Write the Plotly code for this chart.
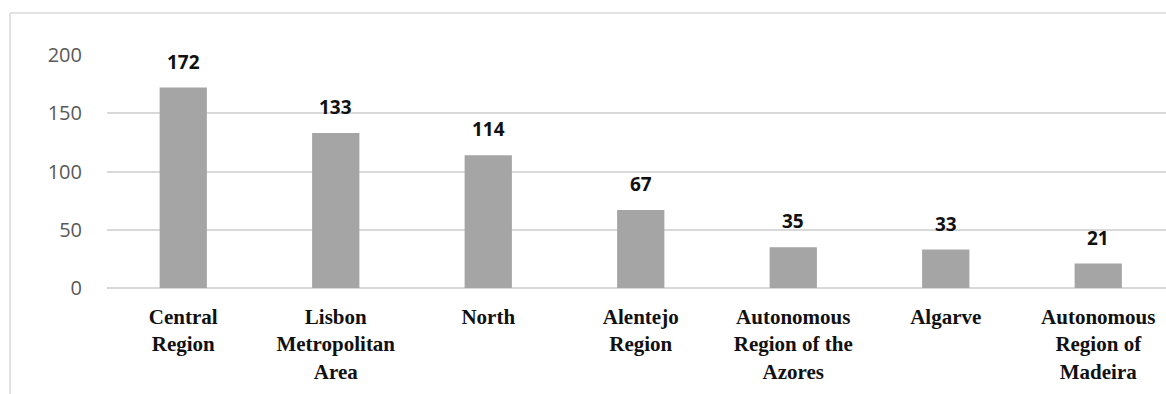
import plotly.graph_objects as go

categories = ["Central<br>Region", "Lisbon<br>Metropolitan<br>Area", "North",
              "Alentejo<br>Region", "Autonomous<br>Region of the<br>Azores",
              "Algarve", "Autonomous<br>Region of<br>Madeira"]
values = [172, 133, 114, 67, 35, 33, 21]
y_ticks = [0, 50, 100, 150, 200]

W, H = 1166, 394
L, R, T, B = 107, 0, 55, 106
pw, ph = W - L - R, H - T - B

x_idx = list(range(len(categories)))

fig = go.Figure(go.Bar(
    x=x_idx, y=values, marker=dict(color="#a5a5a5", line=dict(width=0)),
    hoverinfo="skip",
))

for i, v in zip(x_idx, values):
    fig.add_annotation(x=i, y=v, text=str(v), showarrow=False, yanchor="bottom",
                       yshift=11, font=dict(family="Open Sans", size=19, color="#111111", weight="bold"))

# outer border (chart area frame)
bx = (10 - L) / pw
by = (288 - 13) / ph
fig.add_shape(type="line", xref="paper", yref="paper", x0=bx, x1=1.05, y0=by, y1=by,
              line=dict(color="#d9d9d9", width=1.5))
fig.add_shape(type="line", xref="paper", yref="paper", x0=bx, x1=bx, y0=by, y1=-0.6,
              line=dict(color="#d9d9d9", width=1.5))

fig.update_layout(
    width=W, height=H,
    margin=dict(l=L, r=R, t=T, b=B, pad=0),
    paper_bgcolor="white", plot_bgcolor="white",
    bargap=0.69, showlegend=False,
    xaxis=dict(
        tickmode="array", tickvals=x_idx,
        range=[-0.5, -0.5 + pw / 152.5],
        showgrid=False, zeroline=False, showline=False, ticks="",
        tickfont=dict(family="'Times New Roman', 'Liberation Serif', serif", size=21, color="#111111"),
        ticklabelstandoff=14,
    ),
    yaxis=dict(
        range=[0, 200], tickmode="array", tickvals=y_ticks,
        showgrid=True, gridcolor="#d9d9d9", gridwidth=1.5,
        zeroline=True, zerolinecolor="#d9d9d9", zerolinewidth=1.5,
        showline=False, ticks="",
        tickfont=dict(family="Open Sans", size=20, color="#595959"),
        ticklabelstandoff=24,
    ),
)
fig.update_xaxes(ticktext=["<b>" + c.replace("<br>", "</b><br><b>") + "</b>" for c in categories])

fig.write_html("out.html")
